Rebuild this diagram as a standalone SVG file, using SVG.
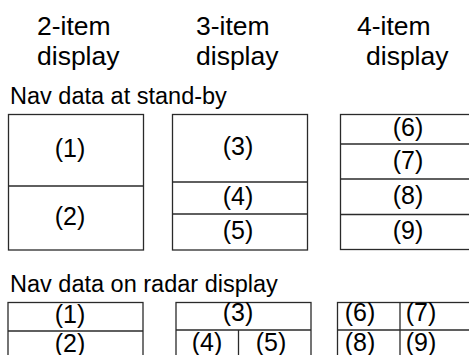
<svg xmlns="http://www.w3.org/2000/svg" width="469" height="355" viewBox="0 0 469 355">
<style>
text{font-family:"Liberation Sans",Arial,sans-serif;fill:#000}
.h{font-size:26.5px}
.s{font-size:23.5px}
.l{font-size:25px;text-anchor:middle}
.b{fill:#fff;stroke:#2a2a2a;stroke-width:1.3}
.d{stroke:#2a2a2a;stroke-width:1.3;fill:none}
</style>
<rect width="469" height="355" fill="#fff"/>
<g id="headers">
<text class="h" x="37" y="35">2-item</text>
<text class="h" x="37" y="65">display</text>
<text class="h" x="196" y="35">3-item</text>
<text class="h" x="196" y="65">display</text>
<text class="h" x="357" y="35">4-item</text>
<text class="h" x="366" y="65">display</text>
</g>
<text class="s" x="10" y="104">Nav data at stand-by</text>
<text class="s" x="10" y="292">Nav data on radar display</text>
<g id="standby-2">
<rect class="b" x="8.5" y="114.5" width="135" height="135.5"/>
<line class="d" x1="8.5" y1="186" x2="143.5" y2="186"/>
<text class="l" x="70" y="157">(1)</text>
<text class="l" x="70" y="225">(2)</text>
</g>
<g id="standby-3">
<rect class="b" x="172.5" y="114.5" width="135" height="135.5"/>
<line class="d" x1="172.5" y1="182" x2="307.5" y2="182"/>
<line class="d" x1="172.5" y1="214" x2="307.5" y2="214"/>
<text class="l" x="238" y="155">(3)</text>
<text class="l" x="238" y="204.5">(4)</text>
<text class="l" x="238" y="239">(5)</text>
</g>
<g id="standby-4">
<rect class="b" x="340.5" y="114.5" width="140" height="135"/>
<line class="d" x1="340.5" y1="144" x2="480" y2="144"/>
<line class="d" x1="340.5" y1="179" x2="480" y2="179"/>
<line class="d" x1="340.5" y1="214.5" x2="480" y2="214.5"/>
<text class="l" x="408" y="135.5">(6)</text>
<text class="l" x="408" y="168.5">(7)</text>
<text class="l" x="408" y="203.5">(8)</text>
<text class="l" x="408" y="238.5">(9)</text>
</g>
<g id="radar-2">
<rect class="b" x="8" y="302.5" width="135" height="70"/>
<line class="d" x1="8" y1="331" x2="143" y2="331"/>
<text class="l" x="70" y="323">(1)</text>
<text class="l" x="70" y="351.5">(2)</text>
</g>
<g id="radar-3">
<rect class="b" x="176" y="302.5" width="135" height="70"/>
<line class="d" x1="176" y1="330" x2="311" y2="330"/>
<line class="d" x1="238.5" y1="330" x2="238.5" y2="360"/>
<text class="l" x="238" y="321">(3)</text>
<text class="l" x="207" y="351">(4)</text>
<text class="l" x="271" y="351">(5)</text>
</g>
<g id="radar-4">
<rect class="b" x="337.5" y="302.5" width="140" height="70"/>
<line class="d" x1="337.5" y1="330" x2="478" y2="330"/>
<line class="d" x1="400" y1="302.5" x2="400" y2="360"/>
<text class="l" x="360" y="321">(6)</text>
<text class="l" x="421" y="321">(7)</text>
<text class="l" x="360" y="351">(8)</text>
<text class="l" x="421" y="351">(9)</text>
</g>
<g id="connectors"></g>
</svg>
